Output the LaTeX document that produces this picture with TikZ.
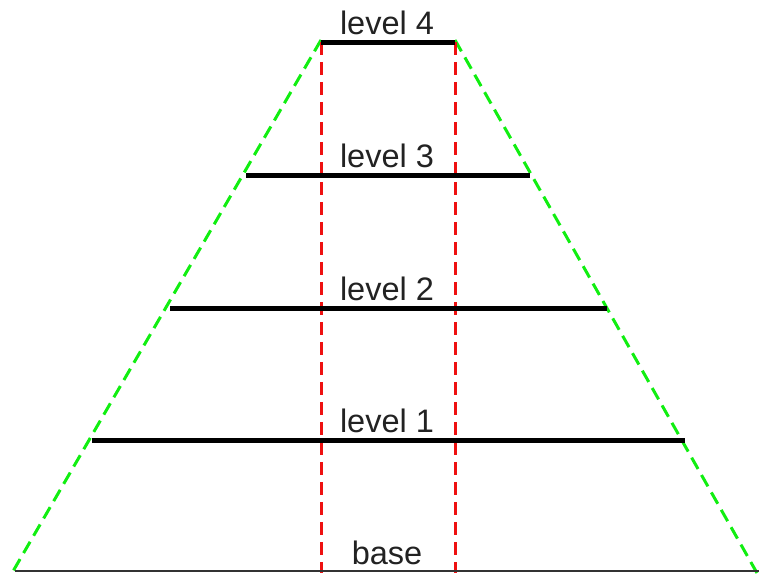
\documentclass[tikz,border=0pt]{standalone}
\usepackage{fontspec}
\setmainfont{Liberation Sans}
\usepackage{tikz}
\usetikzlibrary{positioning}
\definecolor{sidegreen}{HTML}{11EE11}
\definecolor{corered}{HTML}{EE1111}
\definecolor{basegray}{HTML}{333333}
\definecolor{labelgray}{HTML}{222222}
\tikzset{
  levelbar/.style={line width=5pt, draw=black},
  baseline/.style={line width=2.5pt, draw=basegray},
  sideedge/.style={line width=3pt, draw=sidegreen, dash pattern=on 13pt off 7pt},
  coreedge/.style={line width=3pt, draw=corered, dash pattern=on 13pt off 7pt},
  levellabel/.style={anchor=base, inner sep=0pt, text=labelgray, font=\fontsize{32.5}{38}\selectfont}
}
\begin{document}
\begin{tikzpicture}[x=1pt, y=-1pt]
  \useasboundingbox (0,0) rectangle (759,573);
  % bar ends
  \coordinate (l4w) at (321,42);  \coordinate (l4e) at (455,42);
  \coordinate (l3w) at (246,175); \coordinate (l3e) at (530,175);
  \coordinate (l2w) at (170,308); \coordinate (l2e) at (607,308);
  \coordinate (l1w) at (92,440);  \coordinate (l1e) at (685,440);
  \coordinate (b0w) at (15,571);  \coordinate (b0e) at (759,571);
  % outline and core
  \coordinate (topw) at (321,40);  \coordinate (tope) at (455,40);
  \coordinate (footw) at (12,573); \coordinate (foote) at (757,573);
  \coordinate (corew) at (321,573); \coordinate (coree) at (455,573);
  \draw[sideedge] (topw) -- (footw);
  \draw[sideedge] (tope) -- (foote);
  \draw[coreedge] (l4w) -- (corew);
  \draw[coreedge] (l4e) -- (coree);
  % levels
  \draw[levelbar] (l4w) -- (l4e);
  \draw[levelbar] (l3w) -- (l3e);
  \draw[levelbar] (l2w) -- (l2e);
  \draw[levelbar] (l1w) -- (l1e);
  \draw[baseline] (b0w) -- (b0e);
  \node[levellabel] (lab4) at (387,34) {level 4};
  \node[levellabel] (lab3) at (387,167) {level 3};
  \node[levellabel] (lab2) at (387,300) {level 2};
  \node[levellabel] (lab1) at (387,432) {level 1};
  \node[levellabel] (lab0) at (387,564) {base};
\end{tikzpicture}
\end{document}
